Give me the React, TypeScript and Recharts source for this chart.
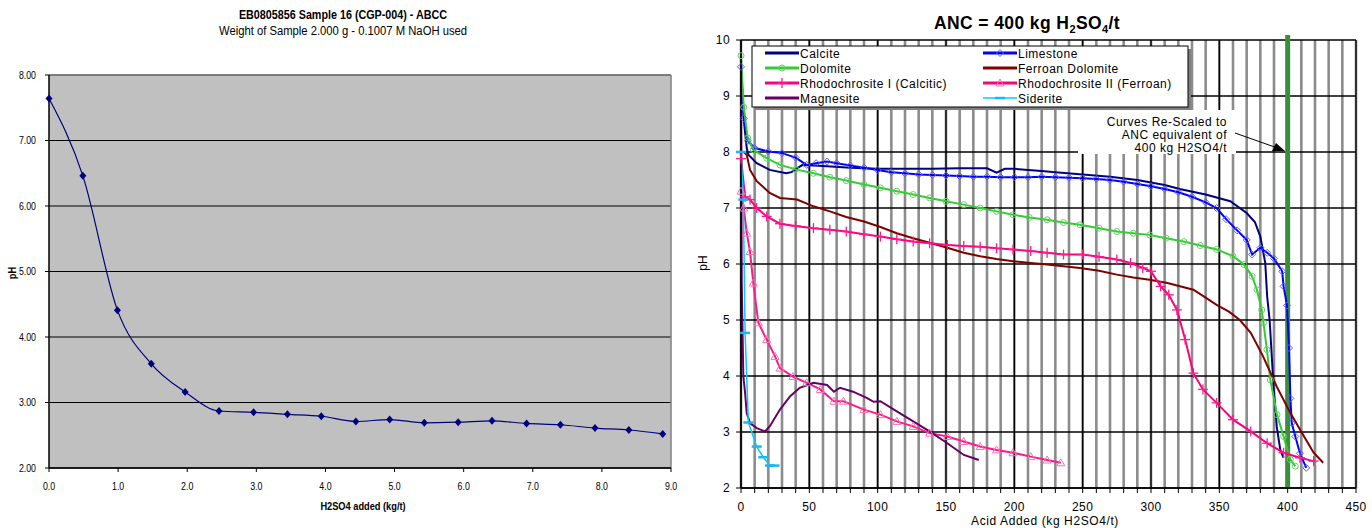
import React from 'react'
import { LineChart, Line, XAxis, YAxis, CartesianGrid, ReferenceLine } from 'recharts'

const SANS = '"Liberation Sans", Arial, sans-serif'

// ---- left chart: ABCC titration ----
const abccAcid = [0, 0.49, 0.99, 1.48, 1.97, 2.46, 2.96, 3.45, 3.94, 4.44, 4.93, 5.43, 5.92, 6.41, 6.91, 7.4, 7.9, 8.39, 8.88]
const abccPh = [7.64, 6.46, 4.41, 3.59, 3.16, 2.87, 2.85, 2.82, 2.79, 2.71, 2.74, 2.69, 2.7, 2.72, 2.68, 2.66, 2.61, 2.58, 2.52]
const abccXTicks = [0, 1, 2, 3, 4, 5, 6, 7, 8, 9]
const abccYTicks = [2, 3, 4, 5, 6, 7, 8]

// ---- right chart: ANC curves, [acid kg H2SO4/t, pH] ----
const calcite = [
  [0, 9.45], [2.4, 8.49], [4.2, 8.07], [5.4, 7.95], [11.5, 7.8], [21, 7.68], [33, 7.62], [37, 7.64],
  [45, 7.77], [60, 7.75], [80, 7.72], [100, 7.7], [120, 7.7], [140, 7.7], [160, 7.71], [180, 7.71],
  [187, 7.63], [193, 7.7], [200, 7.7], [210, 7.68], [220, 7.66], [230, 7.64], [250, 7.6], [270, 7.56],
  [290, 7.5], [310, 7.41], [321, 7.34], [340, 7.24], [358, 7.12], [370, 6.91], [376, 6.75], [380, 6.49],
  [383.6, 6.02], [385, 5.42], [386.8, 5.0], [389.7, 3.81], [392, 3.1], [394.6, 2.68], [397, 2.54],
]
const limestone = [
  [0, 9.52], [2, 8.6], [5, 8.2], [10, 8.07], [20, 8.01], [30, 7.98], [40, 7.9], [48, 7.77], [55, 7.8],
  [63, 7.83], [70, 7.8], [80, 7.76], [90, 7.72], [100, 7.68], [110, 7.64], [120, 7.62], [130, 7.6],
  [140, 7.59], [150, 7.58], [160, 7.57], [170, 7.56], [180, 7.56], [190, 7.55], [200, 7.55], [210, 7.55],
  [220, 7.56], [230, 7.55], [240, 7.54], [250, 7.53], [260, 7.52], [270, 7.5], [280, 7.47], [290, 7.43],
  [300, 7.39], [310, 7.34], [320, 7.28], [330, 7.2], [340, 7.1], [348, 7.0], [355, 6.8], [363, 6.6],
  [370, 6.43], [374, 6.17], [380, 6.29], [385, 6.2], [390, 6.1], [396, 5.87], [397, 5.6], [399.5, 5.26],
  [401, 4.5], [402, 3.6], [403, 3.16], [405.6, 2.92], [409, 2.62], [413.6, 2.36],
]
const dolomite = [
  [0, 9.72], [2, 8.8], [4.9, 8.25], [9, 8.04], [18.8, 7.89], [28.5, 7.77], [40, 7.69], [53, 7.62],
  [65, 7.55], [77, 7.49], [90, 7.42], [102, 7.36], [114, 7.3], [126, 7.24], [138, 7.18], [150, 7.12],
  [163, 7.06], [175, 7.0], [187, 6.94], [199, 6.88], [211, 6.83], [224, 6.79], [236, 6.74], [248, 6.7],
  [262, 6.64], [275, 6.58], [287, 6.55], [299, 6.52], [311, 6.46], [324, 6.4], [336, 6.33], [348, 6.26],
  [360, 6.14], [368, 5.99], [374, 5.78], [377.5, 5.54], [381, 5.18], [382.3, 4.95], [384.8, 4.47],
  [387.3, 3.93], [392.2, 3.31], [397, 2.92], [401.9, 2.51], [405.6, 2.39],
]
const ferroanDolomite = [
  [2, 8.0], [4.2, 7.95], [6.6, 7.68], [11.5, 7.48], [21, 7.27], [28.5, 7.18], [41, 7.15], [53, 7.03],
  [65, 6.94], [77, 6.84], [90, 6.76], [102, 6.66], [114, 6.55], [126, 6.46], [138, 6.38], [151, 6.29],
  [163, 6.2], [175, 6.14], [187, 6.09], [199, 6.05], [212, 6.02], [224, 5.99], [236, 5.96], [248, 5.93],
  [262, 5.88], [275, 5.81], [287, 5.76], [299, 5.72], [312, 5.66], [331, 5.54], [340, 5.4], [348, 5.27],
  [357, 5.15], [365, 5.0], [373, 4.77], [382, 4.35], [392, 3.81], [402, 3.34], [412, 2.92], [419, 2.63],
  [426, 2.45],
]
const rhodochrositeI = [
  [0, 7.88], [3, 7.2], [6.6, 7.15], [11.5, 7.0], [18.8, 6.85], [28.5, 6.72], [40, 6.68], [53, 6.64],
  [65, 6.61], [77, 6.58], [90, 6.53], [102, 6.49], [114, 6.44], [126, 6.4], [138, 6.37], [151, 6.34],
  [163, 6.32], [175, 6.31], [187, 6.28], [199, 6.26], [212, 6.23], [224, 6.2], [236, 6.17], [250, 6.17],
  [262, 6.13], [275, 6.08], [285, 6.02], [294, 5.93], [300, 5.87], [307, 5.6], [313, 5.45], [319, 5.18],
  [325, 4.65], [331, 4.05], [338, 3.76], [348, 3.52], [360, 3.22], [373, 3.01], [385, 2.8], [397, 2.63],
  [409, 2.54], [419, 2.48],
]
const rhodochrositeII = [
  [0, 7.3], [2, 7.0], [4.2, 6.55], [6.6, 6.22], [9, 5.66], [12.7, 4.95], [18.8, 4.65], [24.9, 4.35],
  [28.5, 4.14], [38, 3.99], [48, 3.88], [58, 3.76], [68, 3.55], [75, 3.55], [90, 3.4], [102, 3.31],
  [114, 3.19], [126, 3.1], [138, 2.98], [151, 2.92], [163, 2.83], [175, 2.74], [187, 2.68], [199, 2.63],
  [212, 2.56], [224, 2.5], [234, 2.45],
]
const magnesite = [
  [0, 9.72], [0.5, 5.7], [1.7, 4.0], [3, 3.7], [4.2, 3.34], [6.6, 3.16], [11.5, 3.07], [17.6, 3.01],
  [21, 3.1], [28.5, 3.4], [36, 3.64], [43, 3.79], [53, 3.88], [63, 3.84], [68, 3.72], [72.5, 3.79],
  [82, 3.72], [92, 3.61], [97, 3.54], [102, 3.55], [114, 3.37], [126, 3.19], [138, 3.01], [151, 2.8],
  [163, 2.59], [174, 2.5],
]
const siderite = [
  [0, 8.0], [1.7, 7.15], [3, 4.77], [5.4, 3.17], [11.5, 2.74], [16.3, 2.55], [21.2, 2.4], [24.5, 2.4],
]
const ancTarget = 400
const ancXTicks = [
  0, 10, 20, 30, 40, 50, 60, 70, 80, 90, 100, 110, 120, 130, 140, 150, 160, 170, 180, 190, 200, 210, 220,
  230, 240, 250, 260, 270, 280, 290, 300, 310, 320, 330, 340, 350, 360, 370, 380, 390, 400, 410, 420,
  430, 440, 450,
]
const ancMajorX = [0, 50, 100, 150, 200, 250, 300, 350, 400, 450]
const ancYTicks = [2, 3, 4, 5, 6, 7, 8, 9, 10]

const toRows = (pts: number[][]) => pts.map(([x, ph]) => ({ x, ph }))

// ---- marker shapes ----
const AbccDot = (p: any) => {
  const { cx, cy } = p
  if (cx == null || cy == null) return null
  return <polygon points={`${cx},${cy - 4} ${cx + 3.5},${cy} ${cx},${cy + 4} ${cx - 3.5},${cy}`} fill="#000080" />
}
const DiamondDot = (p: any) => {
  const { cx, cy } = p
  if (cx == null || cy == null) return null
  return <polygon points={`${cx},${cy - 3.5} ${cx + 3.5},${cy} ${cx},${cy + 3.5} ${cx - 3.5},${cy}`} fill="none" stroke="#5a5aff" strokeWidth={1} />
}
const CircleDot = (p: any) => {
  const { cx, cy } = p
  if (cx == null || cy == null) return null
  return <circle cx={cx} cy={cy} r={3} fill="none" stroke="#66d066" strokeWidth={1} />
}
const PlusDot = (p: any) => {
  const { cx, cy } = p
  if (cx == null || cy == null) return null
  return (
    <g stroke="#ff1a8c" strokeWidth={1.3}>
      <line x1={cx - 5} y1={cy} x2={cx + 5} y2={cy} />
      <line x1={cx} y1={cy - 5} x2={cx} y2={cy + 5} />
    </g>
  )
}
const TriangleDot = (p: any) => {
  const { cx, cy } = p
  if (cx == null || cy == null) return null
  return <polygon points={`${cx},${cy - 4} ${cx + 4},${cy + 3} ${cx - 4},${cy + 3}`} fill="none" stroke="#ff70b0" strokeWidth={1} />
}
const DashDot = (p: any) => {
  const { cx, cy } = p
  if (cx == null || cy == null) return null
  return <line x1={cx - 5} y1={cy} x2={cx + 5} y2={cy} stroke="#1ab8f0" strokeWidth={2.5} />
}

// narrow-looking tick text for the Excel chart on the left
const NarrowTick = (p: any) => {
  const { x, y, payload, textAnchor, digits } = p
  return (
    <text
      transform={`translate(${x},${y}) scale(0.8,1)`}
      textAnchor={textAnchor}
      dominantBaseline="central"
      fontSize={11}
      fontFamily={SANS}
      fill="#000"
    >
      {Number(payload.value).toFixed(digits)}
    </text>
  )
}

const legendItems = [
  { name: 'Calcite', color: '#000080', w: 3, marker: 'none' },
  { name: 'Limestone', color: '#0000ff', w: 3, marker: 'diamond' },
  { name: 'Dolomite', color: '#33cc33', w: 3, marker: 'circle' },
  { name: 'Ferroan Dolomite', color: '#800000', w: 3, marker: 'none' },
  { name: 'Rhodochrosite I (Calcitic)', color: '#ff0080', w: 3, marker: 'plus' },
  { name: 'Rhodochrosite II (Ferroan)', color: '#ff0080', w: 3, marker: 'triangle' },
  { name: 'Magnesite', color: '#660066', w: 3, marker: 'none' },
  { name: 'Siderite', color: '#00ccff', w: 1.5, marker: 'dash' },
]

function LegendMarker({ kind, cx, cy }: { kind: string; cx: number; cy: number }) {
  if (kind === 'diamond') return <DiamondDot cx={cx} cy={cy} />
  if (kind === 'circle') return <CircleDot cx={cx} cy={cy} />
  if (kind === 'plus') return <PlusDot cx={cx} cy={cy} />
  if (kind === 'triangle') return <TriangleDot cx={cx} cy={cy} />
  if (kind === 'dash') return <DashDot cx={cx} cy={cy} />
  return null
}

const centered = (x: number, y: number, extra: React.CSSProperties = {}, tf = ''): React.CSSProperties => ({
  position: 'absolute',
  left: x,
  top: y,
  transform: `translate(-50%, -50%) ${tf}`,
  whiteSpace: 'nowrap',
  color: '#000',
  fontFamily: SANS,
  ...extra,
})

const majorGridX = ({ xAxis, offset }: any) =>
  ancMajorX.map((v) =>
    xAxis && typeof xAxis.scale === 'function' ? xAxis.scale(v) : offset.left + (v / 450) * offset.width,
  )

export default function App() {
  const abccData = abccAcid.map((x, i) => ({ x, ph: abccPh[i] }))
  const tickR = { fontSize: 12, fontFamily: SANS, fill: '#000', letterSpacing: 0.4 }
  const noteText = { fontSize: 12, fontFamily: SANS, fill: '#000', letterSpacing: 0.5 }

  return (
    <div style={{ position: 'absolute', left: 0, top: 0, width: 1372, height: 528, background: '#fff', overflow: 'hidden' }}>
      {/* left chart */}
      <div style={{ position: 'absolute', left: 0, top: 0 }}>
        <LineChart width={690} height={528} data={abccData} margin={{ top: 75, right: 19, bottom: 35, left: 0 }}>
          <CartesianGrid fill="#c0c0c0" stroke="#000" strokeWidth={1} vertical={false} />
          <XAxis
            dataKey="x"
            type="number"
            domain={[0, 9]}
            ticks={abccXTicks}
            tick={<NarrowTick digits={1} />}
            axisLine={{ stroke: '#000', strokeWidth: 1.5 }}
            tickLine={{ stroke: '#000' }}
            tickSize={4}
            tickMargin={14}
            height={25}
          />
          <YAxis
            type="number"
            domain={[2, 8]}
            ticks={abccYTicks}
            tick={<NarrowTick digits={2} />}
            axisLine={{ stroke: '#000', strokeWidth: 1.5 }}
            tickLine={{ stroke: '#000' }}
            tickSize={4}
            tickMargin={9}
            width={49}
          />
          <ReferenceLine x={9} stroke="#808080" strokeWidth={1.5} />
          <ReferenceLine y={8} stroke="#808080" strokeWidth={1.5} />
          <Line
            dataKey="ph"
            type="monotone"
            stroke="#000080"
            strokeWidth={1.2}
            dot={<AbccDot />}
            activeDot={false}
            isAnimationActive={false}
          />
        </LineChart>
      </div>
      <div style={centered(343, 15, { fontWeight: 'bold', fontSize: 12.5 }, 'scaleX(0.86)')}>
        EB0805856 Sample 16 (CGP-004) - ABCC
      </div>
      <div style={centered(343, 31, { fontSize: 12.5 }, 'scaleX(0.9)')}>
        Weight of Sample 2.000 g - 0.1007 M NaOH used
      </div>
      <div style={centered(12, 273, { fontWeight: 'bold', fontSize: 11 }, 'rotate(-90deg) scaleX(0.85)')}>
        pH
      </div>
      <div style={centered(363, 506, { fontWeight: 'bold', fontSize: 11 }, 'scaleX(0.84)')}>
        H2SO4 added (kg/t)
      </div>

      {/* right chart */}
      <div style={{ position: 'absolute', left: 680, top: 0 }}>
        <LineChart width={692} height={528} margin={{ top: 40, right: 16, bottom: 20, left: 21 }}>
          <CartesianGrid horizontal={false} stroke="#8c8c8c" strokeWidth={2.6} />
          <CartesianGrid horizontal={false} stroke="#000" strokeWidth={1.3} verticalCoordinatesGenerator={majorGridX} />
          <CartesianGrid vertical={false} stroke="#000" strokeWidth={1.3} />
          <XAxis
            dataKey="x"
            type="number"
            domain={[0, 450]}
            ticks={ancXTicks}
            interval={0}
            tickFormatter={(v: number) => (v % 50 === 0 ? String(v) : '')}
            tick={tickR}
            axisLine={{ stroke: '#000', strokeWidth: 1.3 }}
            tickLine={{ stroke: '#000' }}
            tickSize={5}
            tickMargin={9}
            height={20}
          />
          <YAxis
            type="number"
            domain={[2, 10]}
            ticks={ancYTicks}
            interval={0}
            tick={tickR}
            axisLine={{ stroke: '#000', strokeWidth: 1.3 }}
            tickLine={{ stroke: '#000' }}
            tickSize={5}
            tickMargin={6}
            width={40}
          />
          <ReferenceLine
            segment={[{ x: ancTarget, y: 2 }, { x: ancTarget, y: 10.09 }]}
            ifOverflow="visible"
            stroke="#3a8f3a"
            strokeWidth={5}
          />
          <Line data={toRows(calcite)} dataKey="ph" type="linear" stroke="#000080" strokeWidth={2} dot={false} activeDot={false} isAnimationActive={false} />
          <Line data={toRows(limestone)} dataKey="ph" type="linear" stroke="#0000ff" strokeWidth={2} dot={<DiamondDot />} activeDot={false} isAnimationActive={false} />
          <Line data={toRows(dolomite)} dataKey="ph" type="linear" stroke="#33cc33" strokeWidth={2} dot={<CircleDot />} activeDot={false} isAnimationActive={false} />
          <Line data={toRows(ferroanDolomite)} dataKey="ph" type="linear" stroke="#800000" strokeWidth={2} dot={false} activeDot={false} isAnimationActive={false} />
          <Line data={toRows(rhodochrositeI)} dataKey="ph" type="linear" stroke="#ff0080" strokeWidth={2} dot={<PlusDot />} activeDot={false} isAnimationActive={false} />
          <Line data={toRows(rhodochrositeII)} dataKey="ph" type="linear" stroke="#ff1a8c" strokeWidth={2} dot={<TriangleDot />} activeDot={false} isAnimationActive={false} />
          <Line data={toRows(magnesite)} dataKey="ph" type="linear" stroke="#660066" strokeWidth={2} dot={false} activeDot={false} isAnimationActive={false} />
          <Line data={toRows(siderite)} dataKey="ph" type="linear" stroke="#00ccff" strokeWidth={1.5} dot={<DashDot />} activeDot={false} isAnimationActive={false} />
        </LineChart>
      </div>

      {/* right chart overlays: legend and annotation */}
      <svg width={1372} height={528} style={{ position: 'absolute', left: 0, top: 0, pointerEvents: 'none' }}>
        <rect x={755} y={49} width={436} height={61} fill="#808080" />
        <rect x={752} y={46} width={436} height={61} fill="#fff" stroke="#000" strokeWidth={1} />
        {legendItems.map((it, i) => {
          const col = i % 2
          const row = Math.floor(i / 2)
          const x0 = col === 0 ? 765 : 983
          const y = 53 + row * 15
          return (
            <g key={it.name}>
              <line x1={x0} y1={y} x2={x0 + 34} y2={y} stroke={it.color} strokeWidth={it.w} />
              <LegendMarker kind={it.marker} cx={x0 + 17} cy={y} />
              <text x={x0 + 35} y={y + 4.5} {...noteText}>
                {it.name}
              </text>
            </g>
          )
        })}

        <rect x={1078} y={110} width={158} height={44} fill="#fff" />
        <text x={1227} y={126} textAnchor="end" {...noteText}>Curves Re-Scaled to</text>
        <text x={1227} y={139} textAnchor="end" {...noteText}>ANC equivalent of</text>
        <text x={1227} y={152} textAnchor="end" {...noteText}>400 kg H2SO4/t</text>
        <line x1={1235} y1={133} x2={1276} y2={147.5} stroke="#000" strokeWidth={1} />
        <polygon points="1285,151 1272,151 1276,143" fill="#000" />
      </svg>

      <div style={centered(1027, 24, { fontWeight: 'bold', fontSize: 17.5, letterSpacing: 0.4 })}>
        ANC = 400 kg H<sub style={{ fontSize: 11 }}>2</sub>SO<sub style={{ fontSize: 11 }}>4</sub>/t
      </div>
      <div style={centered(703, 263, { fontSize: 12 }, 'rotate(-90deg)')}>
        pH
      </div>
      <div style={centered(1045, 521, { fontSize: 12, letterSpacing: 0.6 })}>
        Acid Added (kg H2SO4/t)
      </div>
    </div>
  )
}
